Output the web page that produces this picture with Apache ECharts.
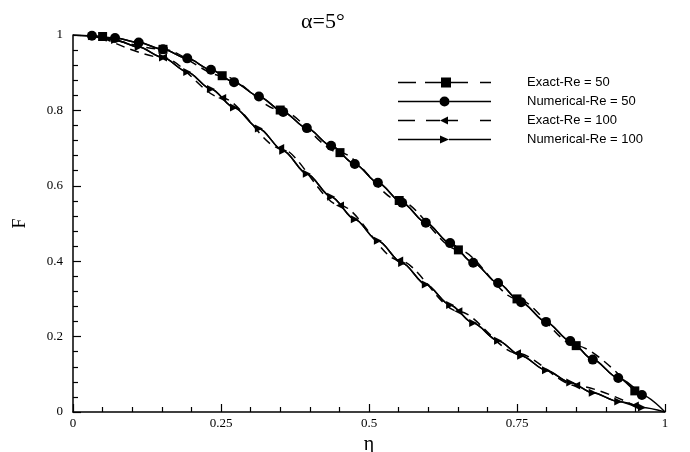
<!DOCTYPE html>
<html>
<head>
<meta charset="utf-8">
<script src="https://cdn.jsdelivr.net/npm/echarts@6/dist/echarts.min.js"></script>
<style>
	html, body { margin: 0; padding: 0; background: #fff; }
	#wrap { position: relative; width: 690px; height: 452px; }
	#axes, #chart { position: absolute; left: 0; top: 0; width: 690px; height: 452px; }
</style>
</head>
<body>
<div id="wrap">
	<div id="axes"></div>
	<div id="chart"></div>
</div>
<script>
// eta positions of the markers
var etaNum = [0, 0.032, 0.071, 0.111, 0.152, 0.193, 0.233, 0.272, 0.314, 0.355, 0.395, 0.436, 0.476,
	0.515, 0.556, 0.596, 0.637, 0.676, 0.718, 0.757, 0.799, 0.84, 0.878, 0.921, 0.961, 1];
var etaExact = [0.05, 0.152, 0.252, 0.35, 0.451, 0.551, 0.651, 0.75, 0.85, 0.949];

// F values
var numRe50 = [1, 0.998, 0.992, 0.98, 0.962, 0.938, 0.908, 0.875, 0.837, 0.796, 0.753, 0.706, 0.658,
	0.608, 0.555, 0.502, 0.448, 0.396, 0.342, 0.291, 0.239, 0.188, 0.139, 0.09, 0.045, 0];
var exactRe50 = [0.996, 0.962, 0.892, 0.801, 0.688, 0.561, 0.43, 0.30, 0.176, 0.056];
var numRe100 = [1, 0.997, 0.987, 0.968, 0.94, 0.902, 0.857, 0.808, 0.752, 0.693, 0.632, 0.571, 0.511,
	0.454, 0.395, 0.338, 0.284, 0.236, 0.189, 0.149, 0.111, 0.078, 0.051, 0.028, 0.012, 0];
var exactRe100 = [0.993, 0.94, 0.833, 0.70, 0.548, 0.402, 0.267, 0.156, 0.07, 0.017];

var seriesNames = ['Exact-Re = 50', 'Numerical-Re = 50', 'Exact-Re = 100', 'Numerical-Re = 100'];

function pairs(xs, ys) {
	return xs.map(function (x, i) { return [x, ys[i]]; });
}

var serif = 'Liberation Serif';
var grid = { left: 73, right: 25, top: 35, bottom: 40, outerBoundsMode: 'none' };

// bottom layer: axes only (the line series were hiding the axis strokes when drawn on the same canvas)
var axesChart = echarts.init(document.getElementById('axes'));
var axisCommon = {
	type: 'value',
	min: 0,
	max: 1,
	nameLocation: 'middle',
	axisLine: { show: true, onZero: false, lineStyle: { color: '#000', width: 1.5 } },
	axisTick: { show: true, inside: true, length: 8, lineStyle: { color: '#000', width: 1.2 } },
	minorTick: { show: true, splitNumber: 5, length: 5, lineStyle: { color: '#000', width: 1.2 } },
	splitLine: { show: false }
};
axesChart.setOption({
	animation: false,
	grid: grid,
	xAxis: Object.assign({}, axisCommon, {
		interval: 0.25,
		name: 'η',
		nameGap: 22,
		nameTextStyle: { fontFamily: serif, fontSize: 20, color: '#000' },
		axisLabel: { color: '#000', fontFamily: serif, fontSize: 13, margin: 5 }
	}),
	yAxis: Object.assign({}, axisCommon, {
		interval: 0.2,
		name: 'F',
		nameRotate: 90,
		nameGap: 44,
		nameTextStyle: { fontFamily: serif, fontSize: 18, color: '#000' },
		axisLabel: { color: '#000', fontFamily: serif, fontSize: 13, margin: 10 }
	}),
	series: []
});

// top layer: curves, markers, legend, title
var myChart = echarts.init(document.getElementById('chart'));

var triRight = 'path://M0,0 L10,5 L0,10 Z';
var triLeft = 'path://M10,0 L0,5 L10,10 Z';

// legend icons: dashed or solid line with its marker, in a 93 x 11 box
var bar = function (a, b) { return 'M' + a + ',4.8 H' + b + ' V6.2 H' + a + ' Z '; };
var frame = 'M0,0 L0.01,0 Z M0,11 L0.01,11 Z';
var iconExact50 = 'path://' + bar(0, 18) + bar(27, 43) + 'M43,0.5 H53 V10.5 H43 Z ' + bar(53, 70) + bar(82, 93) + frame;
var iconNum50 = 'path://' + bar(0, 41.5) + 'M41.5,5.5 A5,5 0 1,1 51.5,5.5 A5,5 0 1,1 41.5,5.5 Z ' + bar(51.5, 93) + frame;
var iconExact100 = 'path://' + bar(0, 17) + bar(28, 42) + 'M50,1.5 L42,5.5 L50,9.5 Z ' + bar(50, 60) + bar(82, 93) + frame;
var iconNum100 = 'path://' + bar(0, 42) + 'M42,1.5 L51,5.5 L42,9.5 Z ' + bar(51, 93) + frame;

function curve(data) {
	return {
		type: 'line',
		data: data,
		showSymbol: false,
		smooth: 0.3,
		smoothMonotone: 'x',
		lineStyle: { color: '#000', width: 1.5 },
		itemStyle: { color: '#000' },
		silent: true
	};
}

function markers(name, data, symbol, size, dashed) {
	return {
		name: name,
		type: 'line',
		data: data,
		symbol: symbol,
		symbolSize: size,
		smooth: 0.3,
		smoothMonotone: 'x',
		itemStyle: { color: '#000' },
		lineStyle: { color: '#000', width: 1.5, type: dashed ? [9, 6] : 'solid' },
		z: 3
	};
}

var hiddenAxis = {
	type: 'value',
	min: 0,
	max: 1,
	axisLine: { show: false },
	axisTick: { show: false },
	axisLabel: { show: false },
	splitLine: { show: false }
};

myChart.setOption({
	animation: false,
	backgroundColor: 'transparent',
	title: {
		text: 'α=5°',
		left: 296,
		top: 6,
		textStyle: { fontFamily: serif, fontSize: 22, fontWeight: 'normal', color: '#000' }
	},
	legend: {
		orient: 'vertical',
		left: 393,
		top: 71,
		itemWidth: 93,
		itemHeight: 11,
		itemGap: 6,
		data: [
			{ name: seriesNames[0], icon: iconExact50 },
			{ name: seriesNames[1], icon: iconNum50 },
			{ name: seriesNames[2], icon: iconExact100 },
			{ name: seriesNames[3], icon: iconNum100 }
		],
		itemStyle: { color: '#000' },
		textStyle: { fontFamily: 'Liberation Sans', fontSize: 13, color: '#000', padding: [0, 0, 0, 31] }
	},
	grid: grid,
	xAxis: hiddenAxis,
	yAxis: hiddenAxis,
	series: [
		curve(pairs(etaNum, numRe50)),
		curve(pairs(etaNum, numRe100)),
		markers(seriesNames[0], pairs(etaExact, exactRe50), 'rect', 9, true),
		markers(seriesNames[1], pairs(etaNum.slice(1, -1), numRe50.slice(1, -1)), 'circle', 10, false),
		markers(seriesNames[2], pairs(etaExact, exactRe100), triLeft, 8, true),
		markers(seriesNames[3], pairs(etaNum.slice(1, -1), numRe100.slice(1, -1)), triRight, 8, false)
	]
});
</script>
</body>
</html>
